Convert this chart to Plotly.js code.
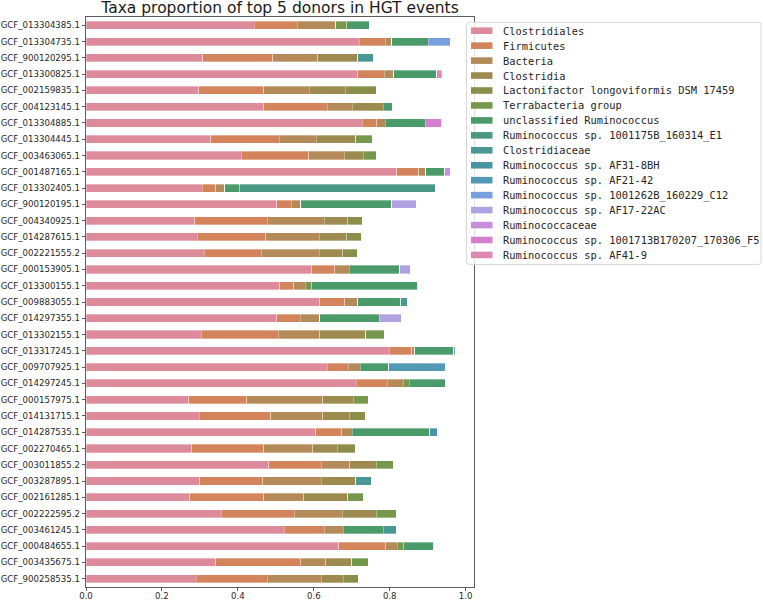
<!DOCTYPE html>
<html>
<head>
<meta charset="utf-8">
<script src="https://cdn.plot.ly/plotly-3.0.1.min.js"></script>
<style>
  html, body { margin: 0; padding: 0; background: #ffffff; }
  #chart { width: 763px; height: 600px; }
</style>
</head>
<body>
<div id="chart"></div>
<script>
// Genome accessions (top to bottom)
const genomes = [
  "GCF_013304385.1","GCF_013304735.1","GCF_900120295.1","GCF_013300825.1","GCF_002159835.1",
  "GCF_004123145.1","GCF_013304885.1","GCF_013304445.1","GCF_003463065.1","GCF_001487165.1",
  "GCF_013302405.1","GCF_900120195.1","GCF_004340925.1","GCF_014287615.1","GCF_002221555.2",
  "GCF_000153905.1","GCF_013300155.1","GCF_009883055.1","GCF_014297355.1","GCF_013302155.1",
  "GCF_013317245.1","GCF_009707925.1","GCF_014297245.1","GCF_000157975.1","GCF_014131715.1",
  "GCF_014287535.1","GCF_002270465.1","GCF_003011855.2","GCF_003287895.1","GCF_002161285.1",
  "GCF_002222595.2","GCF_003461245.1","GCF_000484655.1","GCF_003435675.1","GCF_900258535.1"
];

// Donor taxa (legend order = stacking order)
const taxa = [
  "Clostridiales","Firmicutes","Bacteria","Clostridia",
  "Lactonifactor longoviformis DSM 17459","Terrabacteria group","unclassified Ruminococcus",
  "Ruminococcus sp. 1001175B_160314_E1","Clostridiaceae","Ruminococcus sp. AF31-8BH",
  "Ruminococcus sp. AF21-42","Ruminococcus sp. 1001262B_160229_C12","Ruminococcus sp. AF17-22AC",
  "Ruminococcaceae","Ruminococcus sp. 1001713B170207_170306_F5","Ruminococcus sp. AF41-9"
];

// Proportions per taxon, one value per genome (same order as genomes)
const clostridiales = [.443,.720,.308,.716,.297,.468,.727,.329,.409,.819,.306,.503,.287,.293,.311,.595,.510,.616,.503,.303,.799,.635,.712,.271,.298,.605,.278,.481,.299,.273,.356,.522,.666,.342,.290];
const firmicutes    = [.113,.068,.184,.069,.171,.167,.039,.180,.178,.058,.036,.037,.191,.181,.150,.060,.037,.065,.061,.204,.059,.056,.081,.152,.188,.069,.190,.138,.167,.195,.193,.105,.123,.224,.188];
const bacteria      = [.102,.017,.119,.025,.120,.066,.022,.098,.093,.018,.024,.025,.149,.141,.153,.039,.030,.035,.052,.109,.008,.031,.042,.200,.137,.027,.129,.076,.153,.106,.126,.051,.031,.066,.141];
const clostridia    = [0,0,.105,0,.095,.082,0,.103,.050,0,0,0,.062,.072,.062,0,0,0,0,.121,0,0,0,.081,.070,0,.065,.069,.091,.116,.090,0,0,.068,.059];
const lactonifactor = [0,0,0,0,.083,0,0,0,0,0,0,0,.038,.039,.040,0,0,0,0,0,0,0,0,0,.043,0,.048,0,0,0,0,0,0,0,.039];
const terrabacteria = [.029,0,0,0,0,0,0,.045,.035,0,0,0,0,0,0,0,.018,0,0,.050,0,0,.016,.041,0,0,0,.045,0,.040,.052,0,.017,.044,0];
const unclRumino    = [.060,.096,0,.114,0,.025,.106,0,0,.050,.039,.240,0,0,0,.133,.278,.113,.157,0,.102,.075,.095,0,0,.205,0,0,0,0,0,.105,.077,0,0];
const rumE1         = [0,0,0,0,0,0,0,0,0,0,.516,0,0,0,0,0,0,0,0,0,0,0,0,0,0,0,0,0,0,0,0,0,0,0,0];
const clostridiaceae= [0,0,.042,0,0,0,0,0,0,0,0,0,0,0,0,0,0,.019,0,0,0,0,0,0,0,0,0,0,.042,0,0,.034,0,0,0];
const rumAF31       = [0,0,0,0,0,0,0,0,0,0,0,0,0,0,0,0,0,0,0,0,0,0,0,0,0,.021,0,0,0,0,0,0,0,0,0];
const rumAF21       = [0,0,0,0,0,0,0,0,0,0,0,0,0,0,0,0,0,0,0,0,0,.151,0,0,0,0,0,0,0,0,0,0,0,0,0];
const rumC12        = [0,.058,0,0,0,0,0,0,0,0,0,0,0,0,0,0,0,0,0,0,.006,0,0,0,0,0,0,0,0,0,0,0,0,0,0];
const rumAF17       = [0,0,0,0,0,0,0,0,0,0,0,.065,0,0,0,.029,0,0,.057,0,0,0,0,0,0,0,0,0,0,0,0,0,0,0,0];
const ruminococcaceae=[0,0,0,0,0,0,0,0,0,.015,0,0,0,0,0,0,0,0,0,0,0,0,0,0,0,0,0,0,0,0,0,0,0,0,0];
const rumF5         = [0,0,0,0,0,0,.043,0,0,0,0,0,0,0,0,0,0,0,0,0,0,0,0,0,0,0,0,0,0,0,0,0,0,0,0];
const rumAF41       = [0,0,0,.013,0,0,0,0,0,0,0,0,0,0,0,0,0,0,0,0,0,0,0,0,0,0,0,0,0,0,0,0,0,0,0];

const series = [clostridiales, firmicutes, bacteria, clostridia, lactonifactor, terrabacteria,
  unclRumino, rumE1, clostridiaceae, rumAF31, rumAF21, rumC12, rumAF17, ruminococcaceae, rumF5, rumAF41];

const colors = ["#dd8a9a","#d4845a","#b38a58","#9c8a4e","#8b8e4a","#75984c","#4b9a6a","#4a9883",
  "#4a9894","#4a94a2","#5299b6","#78a0dc","#b0a1e2","#c890dc","#d47ecc","#dc88b0"];

const xTicks = [0, 0.2, 0.4, 0.6, 0.8, 1.0];

const W = 763, H = 600;
const M = { l: 86, r: 289, t: 17, b: 13 };
const plotW = W - M.l - M.r, plotH = H - M.t - M.b;
// pixel -> paper coordinate helpers (legend placement only)
const px = v => (v - M.l) / plotW;
const py = v => (H - M.b - v) / plotH;

const traces = taxa.map((name, i) => ({
  type: 'bar',
  orientation: 'h',
  name: name,
  y: genomes,
  x: series[i],
  width: 0.5,
  marker: { color: colors[i], line: { width: 0.6, color: 'rgba(255,255,255,0.55)' } },
  showlegend: false
}));

// Legend (matplotlib-style box with compact rows)
const legTop = 22.3, legLeft = 466.5, legRight = 761, rowH = 14.95, firstRow = 30.7;
const legBottom = firstRow + rowH * (taxa.length - 1) + 9.5;
const r = 3;
const x0 = px(legLeft), x1 = px(legRight), y0 = py(legTop), y1 = py(legBottom);
const rx = r / plotW, ry = r / plotH;
const shapes = [{
  type: 'path', xref: 'paper', yref: 'paper', layer: 'above',
  path: `M ${x0 + rx} ${y0} L ${x1 - rx} ${y0} Q ${x1} ${y0} ${x1} ${y0 - ry} L ${x1} ${y1 + ry} Q ${x1} ${y1} ${x1 - rx} ${y1} L ${x0 + rx} ${y1} Q ${x0} ${y1} ${x0} ${y1 + ry} L ${x0} ${y0 - ry} Q ${x0} ${y0} ${x0 + rx} ${y0} Z`,
  fillcolor: 'rgba(255,255,255,0.82)',
  line: { color: '#d6d6d6', width: 1 }
}];
const annotations = [];
taxa.forEach((name, i) => {
  const cy = firstRow + i * rowH;
  shapes.push({
    type: 'rect', xref: 'paper', yref: 'paper', layer: 'above',
    x0: px(471), x1: px(492.5), y0: py(cy - 3.3), y1: py(cy + 3.3),
    fillcolor: colors[i], line: { width: 0 }
  });
  annotations.push({
    xref: 'paper', yref: 'paper', x: px(500.5), y: py(cy),
    xanchor: 'left', yanchor: 'middle', showarrow: false,
    text: name,
    font: { family: 'DejaVu Sans Mono', size: 10.4, color: '#262626' }
  });
});

const n = genomes.length;
const layout = {
  width: W, height: H,
  margin: { l: M.l, r: M.r, t: M.t, b: M.b, autoexpand: false },
  paper_bgcolor: '#ffffff', plot_bgcolor: '#ffffff',
  barmode: 'stack',
  bargap: 0,
  font: { family: 'DejaVu Sans', size: 9, color: '#262626' },
  title: {
    text: 'Taxa proportion of top 5 donors in HGT events',
    font: { family: 'DejaVu Sans', size: 15.5, color: '#1a1a1a' },
    xref: 'paper', x: 0.5, xanchor: 'center',
    yref: 'container', y: 1 - 7.5 / H, yanchor: 'middle', pad: { t: 0, b: 0 }
  },
  xaxis: {
    range: [0, 1.022],
    tickvals: xTicks,
    tickformat: '.1f',
    ticks: 'outside', ticklen: 3.5, tickwidth: 0.8, tickcolor: '#333',
    ticklabelstandoff: -3,
    showline: true, linecolor: '#333', linewidth: 0.8, mirror: true,
    showgrid: false, zeroline: false,
    tickfont: { family: 'DejaVu Sans', size: 8.6, color: '#262626' },
    automargin: false
  },
  yaxis: {
    type: 'category',
    categoryorder: 'array', categoryarray: genomes,
    range: [n - 1 + 0.51, -0.51],
    ticks: 'outside', ticklen: 3.5, tickwidth: 0.8, tickcolor: '#333',
    showline: true, linecolor: '#333', linewidth: 0.8, mirror: true,
    showgrid: false, zeroline: false,
    tickfont: { family: 'DejaVu Sans', size: 8.6, color: '#262626' },
    automargin: false
  },
  shapes: shapes,
  annotations: annotations,
  showlegend: false
};

Plotly.newPlot('chart', traces, layout, { displayModeBar: false, staticPlot: true });
</script>
</body>
</html>
